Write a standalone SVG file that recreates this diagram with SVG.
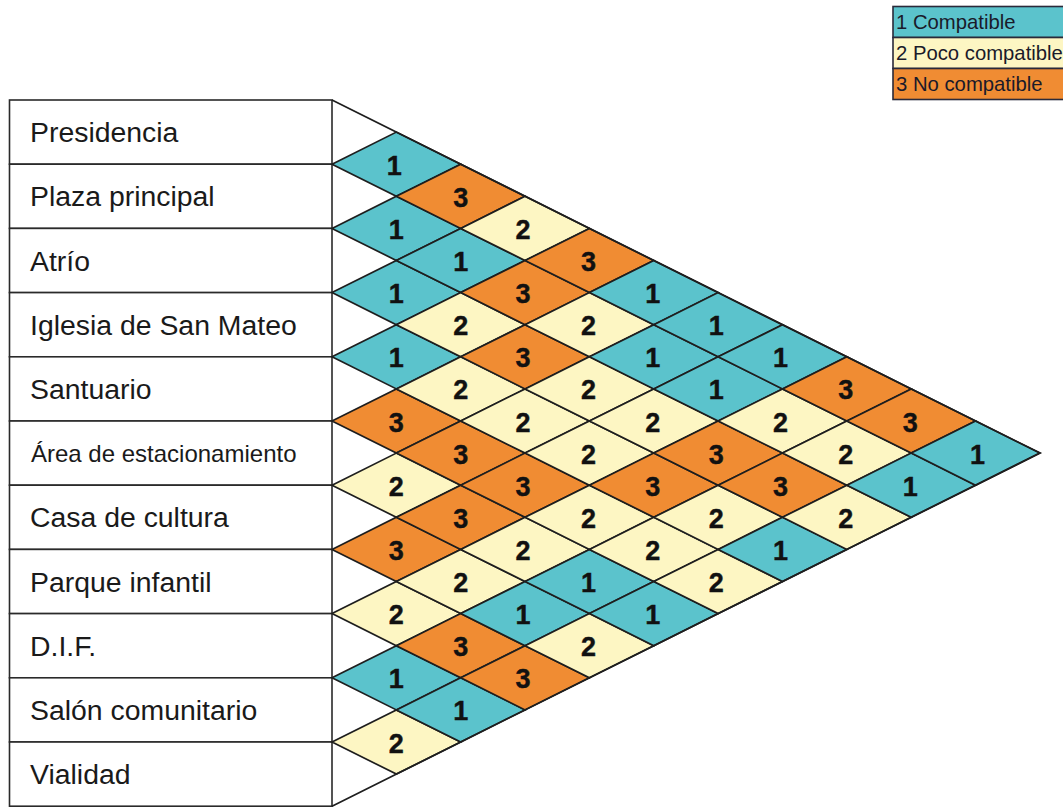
<svg xmlns="http://www.w3.org/2000/svg" xmlns:xlink="http://www.w3.org/1999/xlink" width="1063" height="809" viewBox="0 0 1063 809">
<style>
.c1{fill:#5bc3cc}
.c2{fill:#fdf6c3}
.c3{fill:#f08c33}
.dm{stroke:#1e1e1e;stroke-width:1.7;stroke-linejoin:miter}
.num{font-family:"Liberation Sans",Arial,sans-serif;font-weight:bold;font-size:27px;fill:#111;text-anchor:middle;stroke:#111;stroke-width:0.4}
.lbl{font-family:"Liberation Sans",Arial,sans-serif;font-size:28.4px;fill:#1a1a1a}
.box{fill:#fff;stroke:#2a2a2a;stroke-width:1.6}
.leg{font-family:"Liberation Sans",Arial,sans-serif;font-size:20.3px;fill:#1a1a2a}
.lbox{stroke:#2a2a3a;stroke-width:1.6}
</style>
<defs>
<polygon id="dm" points="-64.36,0 0,-32.1 64.36,0 0,32.1"/>
</defs>
<rect width="1063" height="809" fill="#fff"/>

<g id="legend">
<rect class="lbox c1" x="893" y="6.5" width="180" height="31"/>
<rect class="lbox c2" x="893" y="37.5" width="180" height="31"/>
<rect class="lbox c3" x="893" y="68.5" width="180" height="31"/>
<text class="leg" x="896" y="29">1 Compatible</text>
<text class="leg" x="896" y="60">2 Poco compatible</text>
<text class="leg" x="896" y="91">3 No compatible</text>
</g>

<g id="row-0"><rect class="box" x="9.5" y="100" width="322.5" height="64.2"/><text class="lbl" x="30" y="142">Presidencia</text></g>
<g id="row-1"><rect class="box" x="9.5" y="164.2" width="322.5" height="64.2"/><text class="lbl" x="30" y="206.3">Plaza principal</text></g>
<g id="row-2"><rect class="box" x="9.5" y="228.4" width="322.5" height="64.2"/><text class="lbl" x="30" y="270.5">Atrío</text></g>
<g id="row-3"><rect class="box" x="9.5" y="292.6" width="322.5" height="64.2"/><text class="lbl" x="30" y="334.7">Iglesia de San Mateo</text></g>
<g id="row-4"><rect class="box" x="9.5" y="356.8" width="322.5" height="64.2"/><text class="lbl" x="30" y="398.9">Santuario</text></g>
<g id="row-5"><rect class="box" x="9.5" y="421" width="322.5" height="64.2"/><text class="lbl" x="31" y="462.1" style="font-size:24px">Área de estacionamiento</text></g>
<g id="row-6"><rect class="box" x="9.5" y="485.2" width="322.5" height="64.2"/><text class="lbl" x="30" y="527.3">Casa de cultura</text></g>
<g id="row-7"><rect class="box" x="9.5" y="549.4" width="322.5" height="64.2"/><text class="lbl" x="30" y="591.5">Parque infantil</text></g>
<g id="row-8"><rect class="box" x="9.5" y="613.6" width="322.5" height="64.2"/><text class="lbl" x="30" y="655.7">D.I.F.</text></g>
<g id="row-9"><rect class="box" x="9.5" y="677.8" width="322.5" height="64.2"/><text class="lbl" x="30" y="719.9">Salón comunitario</text></g>
<g id="row-10"><rect class="box" x="9.5" y="742" width="322.5" height="64.2"/><text class="lbl" x="30" y="784.1">Vialidad</text></g>

<g id="cells">
<g id="c-0-1"><use xlink:href="#dm" class="dm c1" x="396.36" y="164.2"/><text class="num" x="394.36" y="174.7">1</text></g>
<g id="c-1-2"><use xlink:href="#dm" class="dm c1" x="396.36" y="228.4"/><text class="num" x="396.36" y="238.9">1</text></g>
<g id="c-2-3"><use xlink:href="#dm" class="dm c1" x="396.36" y="292.6"/><text class="num" x="396.36" y="303.1">1</text></g>
<g id="c-3-4"><use xlink:href="#dm" class="dm c1" x="396.36" y="356.8"/><text class="num" x="396.36" y="367.3">1</text></g>
<g id="c-4-5"><use xlink:href="#dm" class="dm c3" x="396.36" y="421"/><text class="num" x="396.36" y="431.5">3</text></g>
<g id="c-5-6"><use xlink:href="#dm" class="dm c2" x="396.36" y="485.2"/><text class="num" x="396.36" y="495.7">2</text></g>
<g id="c-6-7"><use xlink:href="#dm" class="dm c3" x="396.36" y="549.4"/><text class="num" x="396.36" y="559.9">3</text></g>
<g id="c-7-8"><use xlink:href="#dm" class="dm c2" x="396.36" y="613.6"/><text class="num" x="396.36" y="624.1">2</text></g>
<g id="c-8-9"><use xlink:href="#dm" class="dm c1" x="396.36" y="677.8"/><text class="num" x="396.36" y="688.3">1</text></g>
<g id="c-9-10"><use xlink:href="#dm" class="dm c2" x="396.36" y="742"/><text class="num" x="396.36" y="752.5">2</text></g>
<g id="c-0-2"><use xlink:href="#dm" class="dm c3" x="460.72" y="196.3"/><text class="num" x="460.72" y="206.8">3</text></g>
<g id="c-1-3"><use xlink:href="#dm" class="dm c1" x="460.72" y="260.5"/><text class="num" x="460.72" y="271">1</text></g>
<g id="c-2-4"><use xlink:href="#dm" class="dm c2" x="460.72" y="324.7"/><text class="num" x="460.72" y="335.2">2</text></g>
<g id="c-3-5"><use xlink:href="#dm" class="dm c2" x="460.72" y="388.9"/><text class="num" x="460.72" y="399.4">2</text></g>
<g id="c-4-6"><use xlink:href="#dm" class="dm c3" x="460.72" y="453.1"/><text class="num" x="460.72" y="463.6">3</text></g>
<g id="c-5-7"><use xlink:href="#dm" class="dm c3" x="460.72" y="517.3"/><text class="num" x="460.72" y="527.8">3</text></g>
<g id="c-6-8"><use xlink:href="#dm" class="dm c2" x="460.72" y="581.5"/><text class="num" x="460.72" y="592">2</text></g>
<g id="c-7-9"><use xlink:href="#dm" class="dm c3" x="460.72" y="645.7"/><text class="num" x="460.72" y="656.2">3</text></g>
<g id="c-8-10"><use xlink:href="#dm" class="dm c1" x="460.72" y="709.9"/><text class="num" x="460.72" y="720.4">1</text></g>
<g id="c-0-3"><use xlink:href="#dm" class="dm c2" x="525.08" y="228.4"/><text class="num" x="523.08" y="238.9">2</text></g>
<g id="c-1-4"><use xlink:href="#dm" class="dm c3" x="525.08" y="292.6"/><text class="num" x="523.08" y="303.1">3</text></g>
<g id="c-2-5"><use xlink:href="#dm" class="dm c3" x="525.08" y="356.8"/><text class="num" x="523.08" y="367.3">3</text></g>
<g id="c-3-6"><use xlink:href="#dm" class="dm c2" x="525.08" y="421"/><text class="num" x="523.08" y="431.5">2</text></g>
<g id="c-4-7"><use xlink:href="#dm" class="dm c3" x="525.08" y="485.2"/><text class="num" x="523.08" y="495.7">3</text></g>
<g id="c-5-8"><use xlink:href="#dm" class="dm c2" x="525.08" y="549.4"/><text class="num" x="523.08" y="559.9">2</text></g>
<g id="c-6-9"><use xlink:href="#dm" class="dm c1" x="525.08" y="613.6"/><text class="num" x="523.08" y="624.1">1</text></g>
<g id="c-7-10"><use xlink:href="#dm" class="dm c3" x="525.08" y="677.8"/><text class="num" x="523.08" y="688.3">3</text></g>
<g id="c-0-4"><use xlink:href="#dm" class="dm c3" x="589.44" y="260.5"/><text class="num" x="588.44" y="271">3</text></g>
<g id="c-1-5"><use xlink:href="#dm" class="dm c2" x="589.44" y="324.7"/><text class="num" x="588.44" y="335.2">2</text></g>
<g id="c-2-6"><use xlink:href="#dm" class="dm c2" x="589.44" y="388.9"/><text class="num" x="588.44" y="399.4">2</text></g>
<g id="c-3-7"><use xlink:href="#dm" class="dm c2" x="589.44" y="453.1"/><text class="num" x="588.44" y="463.6">2</text></g>
<g id="c-4-8"><use xlink:href="#dm" class="dm c2" x="589.44" y="517.3"/><text class="num" x="588.44" y="527.8">2</text></g>
<g id="c-5-9"><use xlink:href="#dm" class="dm c1" x="589.44" y="581.5"/><text class="num" x="588.44" y="592">1</text></g>
<g id="c-6-10"><use xlink:href="#dm" class="dm c2" x="589.44" y="645.7"/><text class="num" x="588.44" y="656.2">2</text></g>
<g id="c-0-5"><use xlink:href="#dm" class="dm c1" x="653.8" y="292.6"/><text class="num" x="652.8" y="303.1">1</text></g>
<g id="c-1-6"><use xlink:href="#dm" class="dm c1" x="653.8" y="356.8"/><text class="num" x="652.8" y="367.3">1</text></g>
<g id="c-2-7"><use xlink:href="#dm" class="dm c2" x="653.8" y="421"/><text class="num" x="652.8" y="431.5">2</text></g>
<g id="c-3-8"><use xlink:href="#dm" class="dm c3" x="653.8" y="485.2"/><text class="num" x="652.8" y="495.7">3</text></g>
<g id="c-4-9"><use xlink:href="#dm" class="dm c2" x="653.8" y="549.4"/><text class="num" x="652.8" y="559.9">2</text></g>
<g id="c-5-10"><use xlink:href="#dm" class="dm c1" x="653.8" y="613.6"/><text class="num" x="652.8" y="624.1">1</text></g>
<g id="c-0-6"><use xlink:href="#dm" class="dm c1" x="718.16" y="324.7"/><text class="num" x="716.16" y="335.2">1</text></g>
<g id="c-1-7"><use xlink:href="#dm" class="dm c1" x="718.16" y="388.9"/><text class="num" x="716.16" y="399.4">1</text></g>
<g id="c-2-8"><use xlink:href="#dm" class="dm c3" x="718.16" y="453.1"/><text class="num" x="716.16" y="463.6">3</text></g>
<g id="c-3-9"><use xlink:href="#dm" class="dm c2" x="718.16" y="517.3"/><text class="num" x="716.16" y="527.8">2</text></g>
<g id="c-4-10"><use xlink:href="#dm" class="dm c2" x="718.16" y="581.5"/><text class="num" x="716.16" y="592">2</text></g>
<g id="c-0-7"><use xlink:href="#dm" class="dm c1" x="782.52" y="356.8"/><text class="num" x="780.52" y="367.3">1</text></g>
<g id="c-1-8"><use xlink:href="#dm" class="dm c2" x="782.52" y="421"/><text class="num" x="780.52" y="431.5">2</text></g>
<g id="c-2-9"><use xlink:href="#dm" class="dm c3" x="782.52" y="485.2"/><text class="num" x="780.52" y="495.7">3</text></g>
<g id="c-3-10"><use xlink:href="#dm" class="dm c1" x="782.52" y="549.4"/><text class="num" x="780.52" y="559.9">1</text></g>
<g id="c-0-8"><use xlink:href="#dm" class="dm c3" x="846.88" y="388.9"/><text class="num" x="845.88" y="399.4">3</text></g>
<g id="c-1-9"><use xlink:href="#dm" class="dm c2" x="846.88" y="453.1"/><text class="num" x="845.88" y="463.6">2</text></g>
<g id="c-2-10"><use xlink:href="#dm" class="dm c2" x="846.88" y="517.3"/><text class="num" x="845.88" y="527.8">2</text></g>
<g id="c-0-9"><use xlink:href="#dm" class="dm c3" x="911.24" y="421"/><text class="num" x="910.24" y="431.5">3</text></g>
<g id="c-1-10"><use xlink:href="#dm" class="dm c1" x="911.24" y="485.2"/><text class="num" x="910.24" y="495.7">1</text></g>
<g id="c-0-10"><use xlink:href="#dm" class="dm c1" x="975.6" y="453.1"/><text class="num" x="977.6" y="463.6">1</text></g>
</g>

<g id="connectors">
<polyline points="332,100 1039.96,453.1 332,806.2" fill="none" stroke="#1e1e1e" stroke-width="1.7"/>
</g>
</svg>
